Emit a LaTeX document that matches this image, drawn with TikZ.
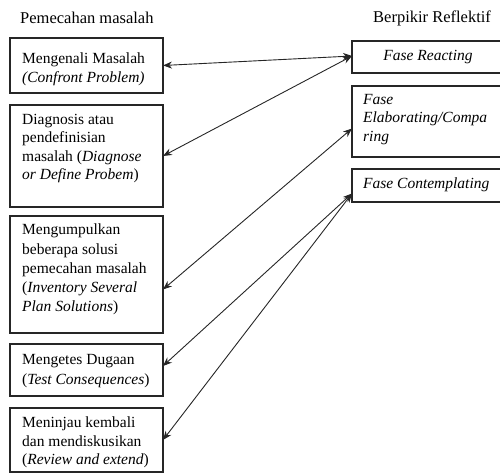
\documentclass[tikz,border=0pt]{standalone}
\usepackage{fontspec}
\setmainfont{Liberation Serif}
\usetikzlibrary{arrows.meta}
\begin{document}
\begin{tikzpicture}[x=1pt,y=-1pt,
  box/.style={draw=black!85,line width=1.1pt,anchor=north west,inner sep=0pt,outer sep=0pt},
  txt/.style={anchor=north west,inner sep=0pt,align=left,font=\fontsize{15.5}{18.5}\selectfont},
  ttl/.style={anchor=west,inner sep=0pt,font=\fontsize{16.5}{19}\selectfont},
  link/.style={draw=black!85,line width=0.9pt,{Stealth[length=9pt,width=7pt]}-{Stealth[length=9pt,width=7pt]}}]
\useasboundingbox (0,0) rectangle (500,473);
% titles
\node[ttl] (t1) at (20,18) {Pemecahan masalah};
\node[ttl] (t2) at (373,18) {Berpikir Reflektif};
% left boxes
\node[box,minimum width=153pt,minimum height=55pt] (b1) at (10,38) {};
\node[box,minimum width=153pt,minimum height=102pt] (b2) at (10,105) {};
\node[box,minimum width=153pt,minimum height=117pt] (b3) at (10,216) {};
\node[box,minimum width=153pt,minimum height=52pt] (b4) at (10,344) {};
\node[box,minimum width=153pt,minimum height=64pt] (b5) at (10,408) {};
% right boxes (their right sides run past the picture's edge)
\node[box,minimum width=165pt,minimum height=32pt] (r1) at (352,41) {};
\node[box,minimum width=165pt,minimum height=71pt] (r2) at (352,86) {};
\node[box,minimum width=165pt,minimum height=33pt] (r3) at (352,169) {};
% left texts
\node[txt] (x1) at (22,53) {Mengenali Masalah\\\textit{(Confront Problem)}};
\node[txt] (x2) at (22,114) {Diagnosis atau\\pendefinisian\\masalah (\textit{Diagnose}\\\textit{or Define Probem})};
\node[txt,font=\fontsize{15.5}{19.2}\selectfont] (x3) at (22,224) {Mengumpulkan\\beberapa solusi\\pemecahan masalah\\(\textit{Inventory Several}\\\textit{Plan Solutions})};
\node[txt,font=\fontsize{15.5}{20}\selectfont] (x4) at (22,354) {Mengetes Dugaan\\(\textit{Test Consequences})};
\node[txt] (x5) at (22,417) {Meninjau kembali\\dan mendiskusikan\\(\textit{Review and extend})};
% right texts
\node[inner sep=0pt,font=\fontsize{15.5}{18.5}\selectfont\itshape] (y1) at (428,57) {Fase Reacting};
\node[txt,font=\fontsize{15.5}{18.5}\selectfont\itshape] (y2) at (363,94) {Fase\\Elaborating/Compa\\ring};
\node[txt,anchor=west,font=\fontsize{15.5}{18.5}\selectfont\itshape] (y3) at (363,185) {Fase Contemplating};
% connectors
\draw[link] (b1.east) -- ([yshift=1pt]r1.west);
\draw[link] (b2.east) -- ([yshift=1pt]r1.west);
\draw[link] ([yshift=-15pt]b3.east) -- ([yshift=-7pt]r2.west);
\draw[link] ([yshift=4pt]b4.east) -- ([yshift=-8pt]r3.west);
\draw[link] (b5.east) -- ([yshift=-8pt]r3.west);
\end{tikzpicture}
\end{document}
